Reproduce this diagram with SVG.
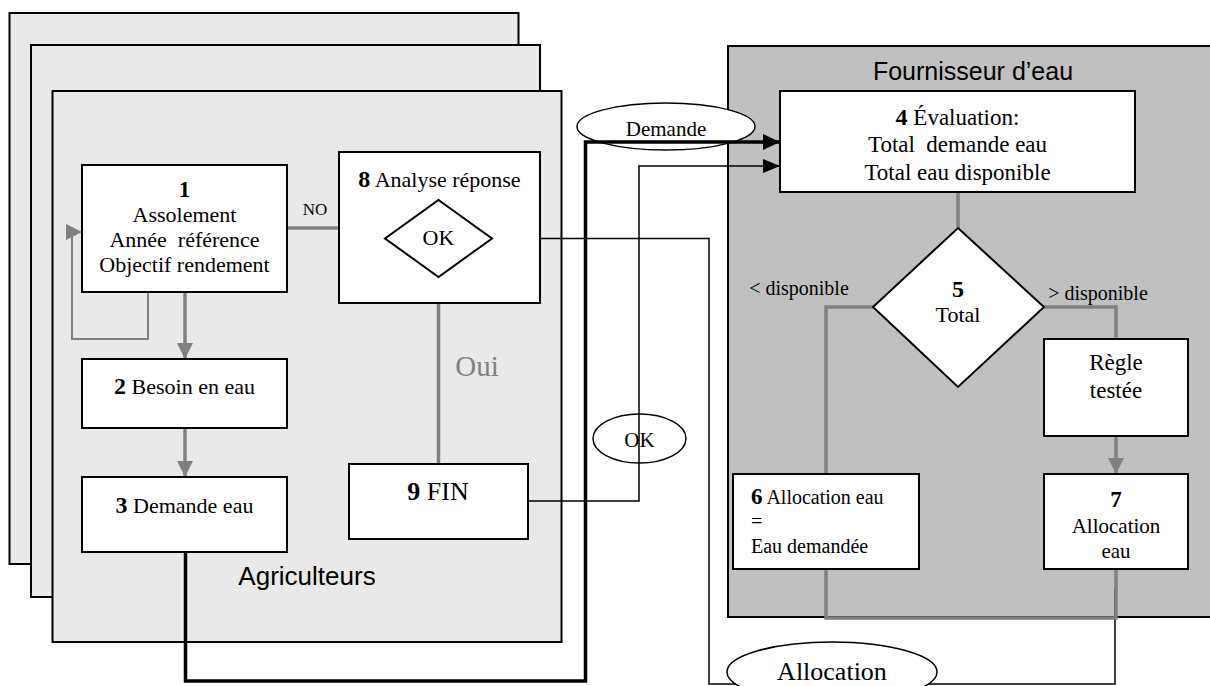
<svg xmlns="http://www.w3.org/2000/svg" width="1210" height="686" viewBox="0 0 1210 686">
<defs>
<style>
.panel{fill:#e9e9e9;stroke:#000;stroke-width:2}
.panelB{fill:#c0c0c0;stroke:#000;stroke-width:2}
.box{fill:#fff;stroke:#000;stroke-width:2}
.ell{fill:#fff;stroke:#000;stroke-width:1.5}
.t{font-family:"Liberation Serif","Times New Roman",serif;fill:#000}
.s{font-family:"Liberation Sans",Arial,sans-serif;fill:#000}
.b{font-weight:bold}
.g3{fill:none;stroke:#808080;stroke-width:3.5}
.g1{fill:none;stroke:#808080;stroke-width:2}
.k3{fill:none;stroke:#000;stroke-width:3.5}
.k1{fill:none;stroke:#000;stroke-width:1.5}
</style>
<marker id="ag" markerUnits="userSpaceOnUse" markerWidth="16" markerHeight="16" refX="16" refY="8" orient="auto"><path d="M0,0 L16,8 L0,16 Z" fill="#808080"/></marker>
<marker id="ak" markerUnits="userSpaceOnUse" markerWidth="17" markerHeight="16" refX="17" refY="8" orient="auto"><path d="M0,0 L17,8 L0,16 Z" fill="#000"/></marker>
<marker id="aks" markerUnits="userSpaceOnUse" markerWidth="17" markerHeight="14" refX="17" refY="7" orient="auto"><path d="M0,0 L17,7 L0,14 Z" fill="#000"/></marker>
</defs>

<g id="panels">
<rect class="panel" x="9.5" y="13" width="509" height="551"/>
<rect class="panel" x="31" y="45" width="509" height="552"/>
<rect class="panel" x="52.5" y="91" width="509" height="551"/>
<text class="s" x="307" y="585" font-size="26" text-anchor="middle">Agriculteurs</text>
<rect class="panelB" x="728" y="46" width="500" height="571"/>
<text class="s" x="973" y="80" font-size="25" text-anchor="middle">Fournisseur d’eau</text>
</g>

<g id="msg-demande">
<ellipse class="ell" cx="666" cy="126.5" rx="89" ry="23.5"/>
<text class="t" x="666" y="136" font-size="21" text-anchor="middle">Demande</text>
</g>
<g id="msg-ok">
<ellipse class="ell" cx="639.5" cy="438.5" rx="46.5" ry="24.5"/>
<text class="t" x="639.5" y="447" font-size="21" text-anchor="middle">OK</text>
</g>

<g id="connectors">
<path class="g3" d="M287,228 H339"/>
<path class="g1" d="M148,292 V339 H72 V232 H82" marker-end="url(#ag)"/>
<path class="g3" d="M185,292 V359" marker-end="url(#ag)"/>
<path class="g3" d="M185,428 V477" marker-end="url(#ag)"/>
<path class="g3" d="M438.5,277 V464"/>
<path class="k3" d="M185.5,552 V681 H585.5 V142 H780" marker-end="url(#ak)"/>
<path class="k1" d="M528,501 H639 V166 H780" marker-end="url(#aks)"/>
<path class="k1" d="M492,238.5 H709 V684 H1115 V589"/>
<path class="g3" d="M958,192 V228"/>
<path class="g3" d="M873,307 H826 V474"/>
<path class="g3" d="M1044,307 H1116 V339"/>
<path class="g3" d="M1116,436 V474" marker-end="url(#ag)"/>
<path class="g3" d="M826,569 V618 H1116 V569"/>
</g>

<g id="labels">
<text class="t" x="315" y="215" font-size="17" text-anchor="middle">NO</text>
<text class="t" x="477" y="376" font-size="29" text-anchor="middle" style="fill:#808080">Oui</text>
<text class="t" x="799" y="295" font-size="20" text-anchor="middle">&lt; disponible</text>
<text class="t" x="1098" y="300" font-size="20" text-anchor="middle">&gt; disponible</text>
</g>

<g id="node1">
<rect class="box" x="82" y="165" width="205" height="127"/>
<text class="t" x="184.5" font-size="22" text-anchor="middle" xml:space="preserve"><tspan class="b" x="184.5" y="197" font-size="23">1</tspan><tspan x="184.5" y="222">Assolement</tspan><tspan x="184.5" y="247">Année  référence</tspan><tspan x="184.5" y="272">Objectif rendement</tspan></text>
</g>

<g id="node2">
<rect class="box" x="82" y="359" width="205" height="69"/>
<text class="t" x="184.5" y="394" font-size="22" text-anchor="middle"><tspan class="b" font-size="24">2</tspan> Besoin en eau</text>
</g>

<g id="node3">
<rect class="box" x="82" y="477" width="205" height="75"/>
<text class="t" x="184.5" y="513" font-size="22" text-anchor="middle"><tspan class="b" font-size="24">3</tspan> Demande eau</text>
</g>

<g id="node8">
<rect class="box" x="339" y="152" width="201" height="151"/>
<text class="t" x="439.5" y="187" font-size="22" text-anchor="middle"><tspan class="b" font-size="24">8</tspan> Analyse réponse</text>
<polygon class="box" points="438.5,200 492,238.5 438.5,277 385,238.5"/>
<text class="t" x="438.5" y="245" font-size="22" text-anchor="middle">OK</text>
</g>

<g id="node9">
<rect class="box" x="349" y="464" width="179" height="75"/>
<text class="t" x="438" y="500" font-size="26" text-anchor="middle"><tspan class="b">9</tspan> FIN</text>
</g>

<g id="node4">
<rect class="box" x="780" y="91" width="355" height="101"/>
<text class="t" x="957.5" text-anchor="middle" font-size="23" xml:space="preserve"><tspan x="957.5" y="125"><tspan class="b" font-size="24">4</tspan> Évaluation:</tspan><tspan x="957.5" y="152">Total  demande eau</tspan><tspan x="957.5" y="180">Total eau disponible</tspan></text>
</g>

<g id="node5">
<polygon class="box" points="958,228 1044,307 958,387 873,307"/>
<text class="t b" x="958" y="297" text-anchor="middle" font-size="24">5</text>
<text class="t" x="958" y="322" font-size="22" text-anchor="middle">Total</text>
</g>

<g id="node-regle">
<rect class="box" x="1044" y="339" width="144" height="97"/>
<text class="t" x="1116" text-anchor="middle" font-size="23"><tspan x="1116" y="370">Règle</tspan><tspan x="1116" y="398">testée</tspan></text>
</g>

<g id="node6">
<rect class="box" x="733" y="474" width="186" height="95"/>
<text class="t" font-size="20"><tspan x="751" y="504"><tspan class="b" font-size="23">6</tspan> Allocation eau</tspan><tspan x="751" y="528">=</tspan><tspan x="751" y="553">Eau demandée</tspan></text>
</g>

<g id="node7">
<rect class="box" x="1044" y="474" width="144" height="95"/>
<text class="t" x="1116" text-anchor="middle" font-size="21"><tspan class="b" x="1116" y="507" font-size="23">7</tspan><tspan x="1116" y="533">Allocation</tspan><tspan x="1116" y="558">eau</tspan></text>
</g>

<g id="msg-allocation">
<ellipse class="ell" cx="832" cy="672" rx="105" ry="30"/>
<text class="t" x="832" y="680" font-size="26" text-anchor="middle">Allocation</text>
</g>
</svg>
